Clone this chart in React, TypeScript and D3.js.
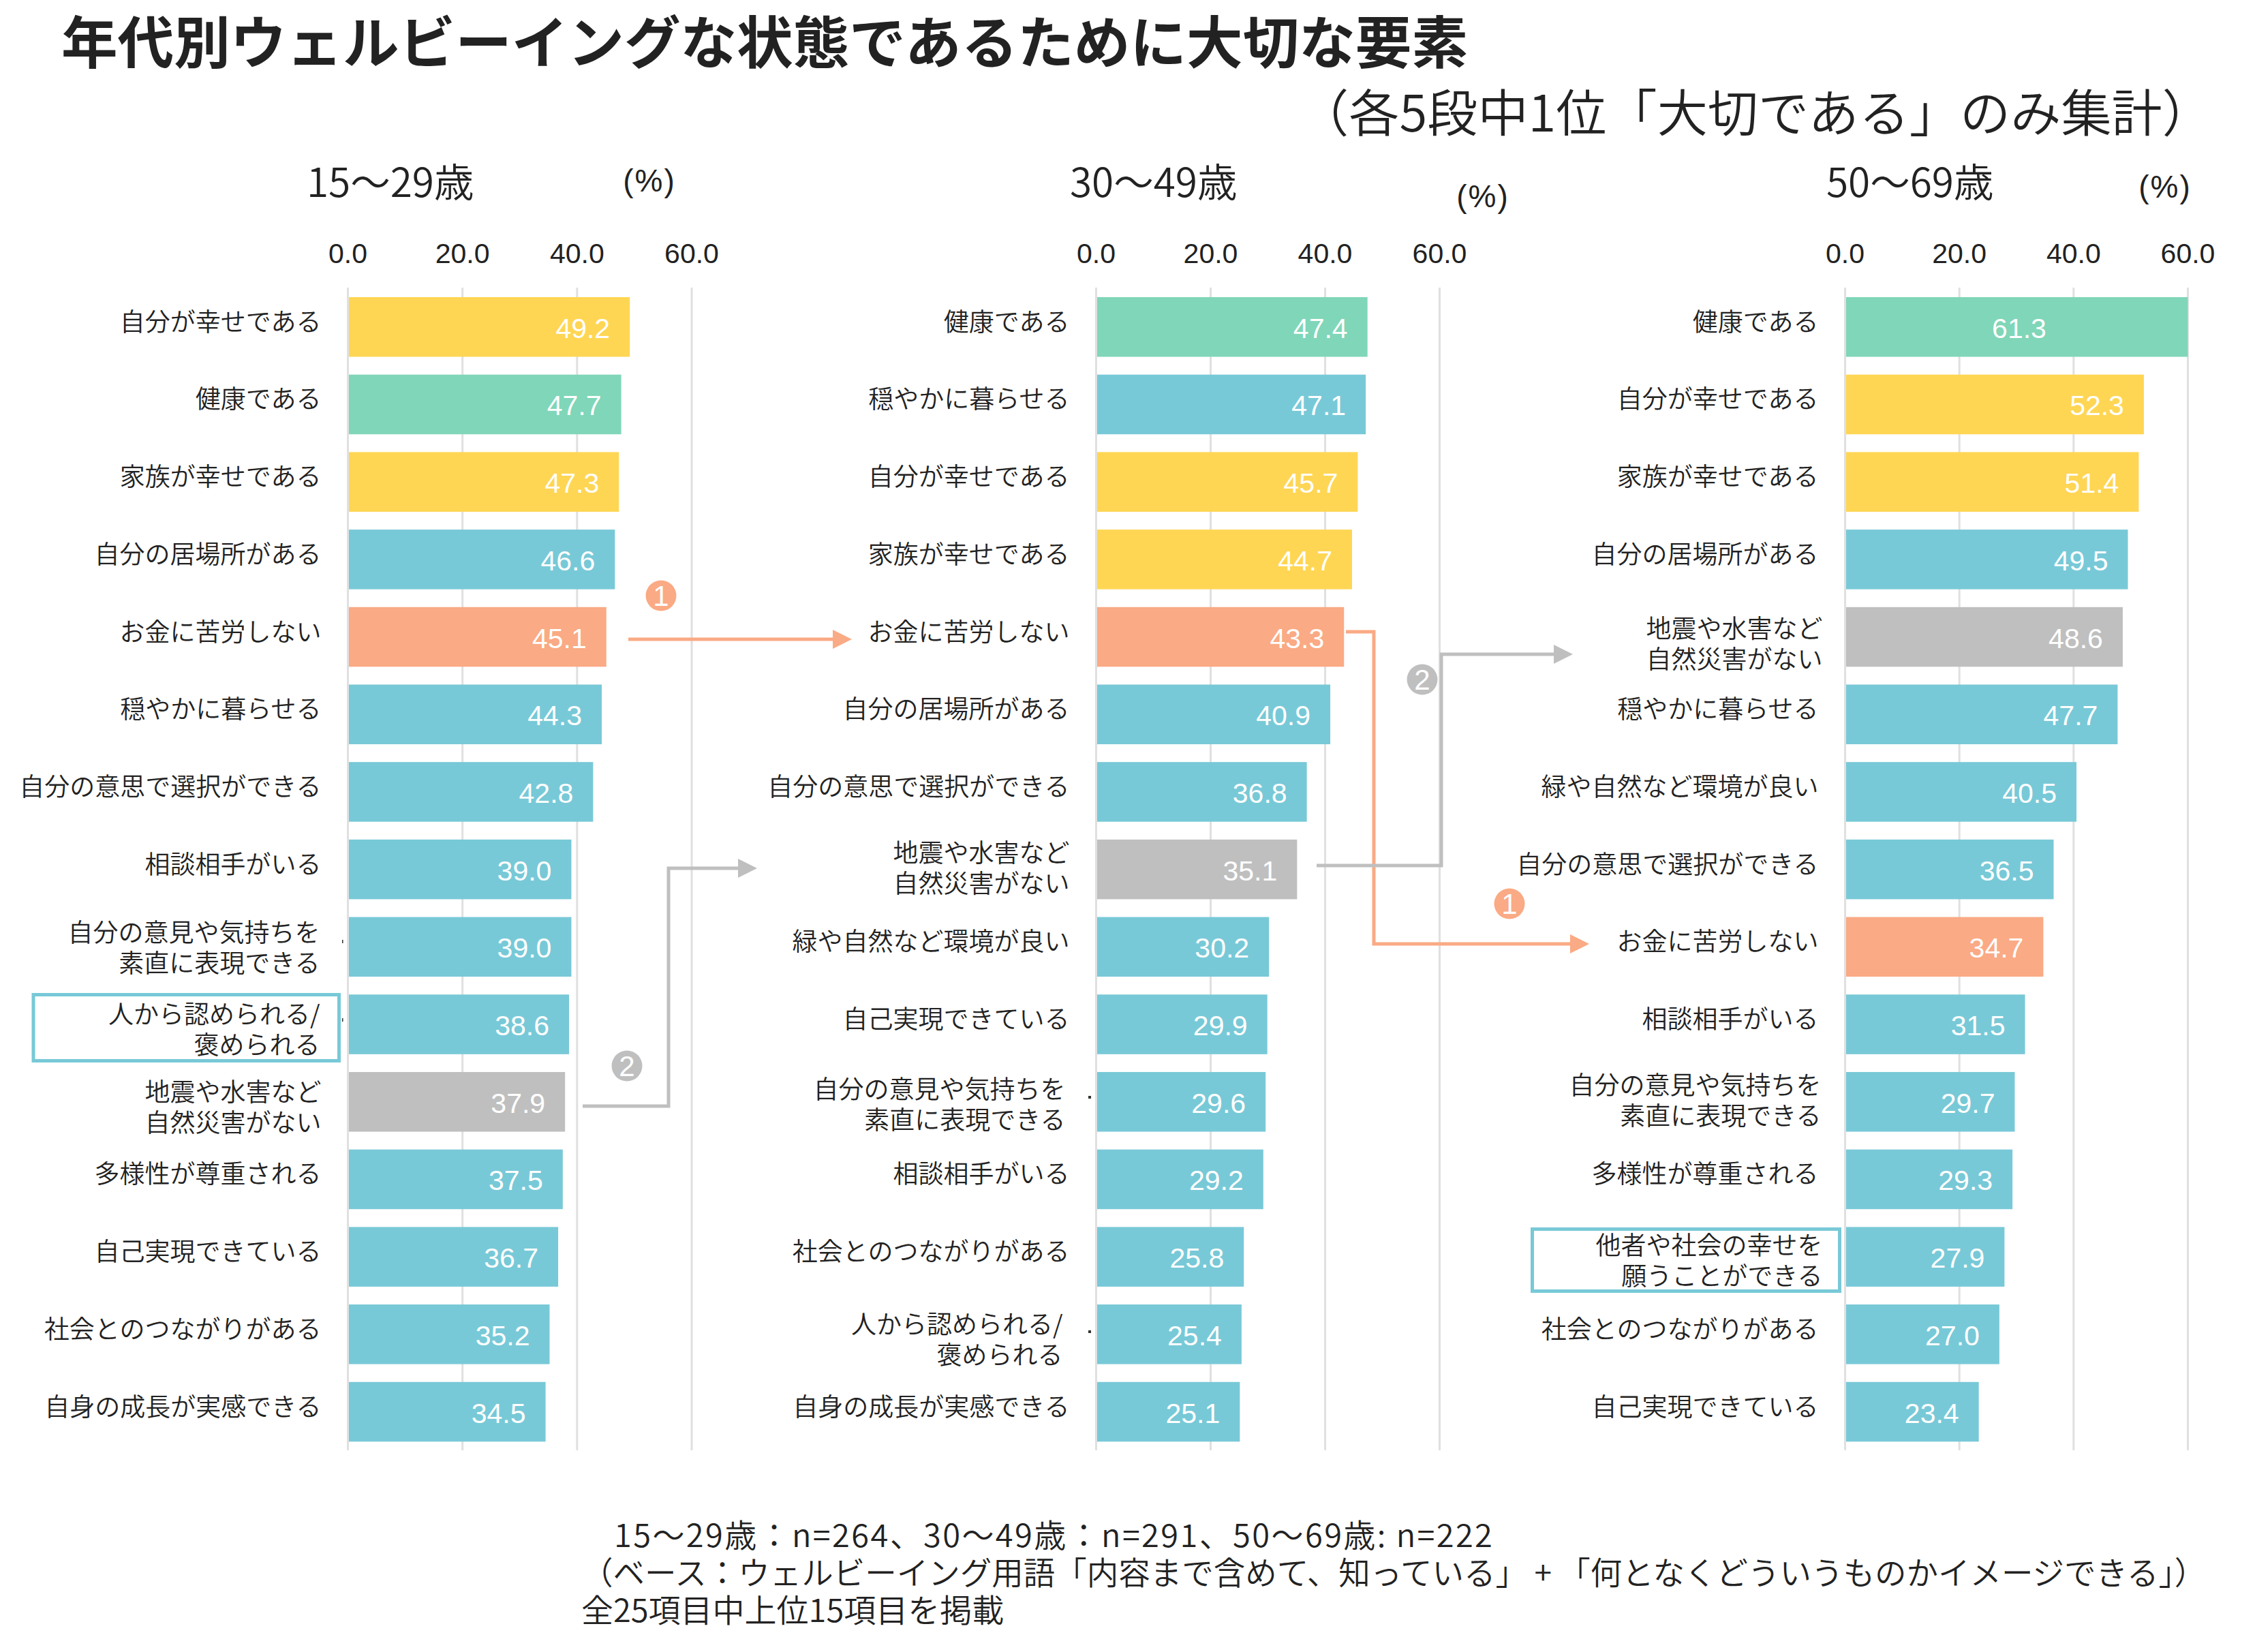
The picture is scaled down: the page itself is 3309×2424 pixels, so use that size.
import { useEffect, useRef } from 'react'
import * as d3 from 'd3'

const ticks = [0, 20, 40, 60]

const labelsYoung = ['自分が幸せである', '健康である', '家族が幸せである', '自分の居場所がある', 'お金に苦労しない', '穏やかに暮らせる', '自分の意思で選択ができる', '相談相手がいる', '自分の意見や気持ちを\n素直に表現できる', '人から認められる/\n褒められる', '地震や水害など\n自然災害がない', '多様性が尊重される', '自己実現できている', '社会とのつながりがある', '自身の成長が実感できる']
const valuesYoung = [49.2, 47.7, 47.3, 46.6, 45.1, 44.3, 42.8, 39.0, 39.0, 38.6, 37.9, 37.5, 36.7, 35.2, 34.5]

const labelsMiddle = ['健康である', '穏やかに暮らせる', '自分が幸せである', '家族が幸せである', 'お金に苦労しない', '自分の居場所がある', '自分の意思で選択ができる', '地震や水害など\n自然災害がない', '緑や自然など環境が良い', '自己実現できている', '自分の意見や気持ちを\n素直に表現できる', '相談相手がいる', '社会とのつながりがある', '人から認められる/\n褒められる', '自身の成長が実感できる']
const valuesMiddle = [47.4, 47.1, 45.7, 44.7, 43.3, 40.9, 36.8, 35.1, 30.2, 29.9, 29.6, 29.2, 25.8, 25.4, 25.1]

const labelsOlder = ['健康である', '自分が幸せである', '家族が幸せである', '自分の居場所がある', '地震や水害など\n自然災害がない', '穏やかに暮らせる', '緑や自然など環境が良い', '自分の意思で選択ができる', 'お金に苦労しない', '相談相手がいる', '自分の意見や気持ちを\n素直に表現できる', '多様性が尊重される', '他者や社会の幸せを\n願うことができる', '社会とのつながりがある', '自己実現できている']
const valuesOlder = [61.3, 52.3, 51.4, 49.5, 48.6, 47.7, 40.5, 36.5, 34.7, 31.5, 29.7, 29.3, 27.9, 27.0, 23.4]

const footnotes = [
  '15～29歳：n=264、30～49歳：n=291、50～69歳: n=222',
  '（ベース：ウェルビーイング用語「内容まで含めて、知っている」 + 「何となくどういうものかイメージできる」）',
  '全25項目中上位15項目を掲載',
]

const BLUE = '#78c9d7'
const YELLOW = '#ffd654'
const GREEN = '#80d6b8'
const ORANGE = '#faaa84'
const GRAY = '#bfbfbf'
const TEXT = '#222222'
const JP = '"Noto Sans CJK JP"'
const LATIN = '"Liberation Sans"'

const colorOf = (label: string) => {
  if (label === '健康である') return GREEN
  if (label === '自分が幸せである' || label === '家族が幸せである') return YELLOW
  if (label === 'お金に苦労しない') return ORANGE
  if (label.startsWith('地震')) return GRAY
  return BLUE
}

const panels = [
  { title: '15～29歳', labels: labelsYoung, values: valuesYoung, left: 510.5, right: 1015, titleX: 450, pctX: 953, pctY: 269, shifts: { 8: [-2, 0], 9: [-2, 6], 10: [0, 6] } as Record<number, number[]> },
  { title: '30～49歳', labels: labelsMiddle, values: valuesMiddle, left: 1608.5, right: 2112.5, titleX: 1570, pctX: 2176, pctY: 292, shifts: { 7: [0, -4], 10: [-6, 2], 13: [-10, 6] } as Record<number, number[]> },
  { title: '50～69歳', labels: labelsOlder, values: valuesOlder, left: 2707.5, right: 3210.5, titleX: 2680, pctX: 3177, pctY: 278, shifts: { 4: [6, 8], 10: [4, -4], 12: [6, 4] } as Record<number, number[]> },
]

export default function App() {
  const svgRef = useRef<SVGSVGElement>(null)

  useEffect(() => {
    if (!svgRef.current) return
    const svg = d3.select(svgRef.current)
    svg.selectAll('*').remove()

    const y = d3.scaleBand<number>()
      .domain(d3.range(15))
      .range([422.9, 2128.4])
      .paddingInner(0.23)
      .paddingOuter(0.115)
    const mid = (i: number) => (y(i) as number) + y.bandwidth() / 2

    // Title
    svg.append('text').attr('x', 90).attr('y', 93)
      .attr('font-family', JP).attr('font-weight', 700).attr('font-size', 82.6)
      .attr('fill', TEXT).text('年代別ウェルビーイングな状態であるために大切な要素')
    svg.append('text').attr('x', 3247).attr('y', 193).attr('text-anchor', 'end')
      .attr('font-family', JP).attr('font-weight', 350).attr('font-size', 74.2).attr('fill', TEXT)
      .text('（各5段中1位「大切である」のみ集計）')

    panels.forEach(p => {
      const x = d3.scaleLinear().domain([0, 60]).range([p.left, p.right]).clamp(true)
      const g = svg.append('g')

      g.append('text').attr('x', p.titleX).attr('y', 289)
        .attr('font-family', JP).attr('font-weight', 350).attr('font-size', 58.5).attr('fill', TEXT).text(p.title)
      g.append('text').attr('x', p.pctX).attr('y', p.pctY + 12).attr('text-anchor', 'middle')
        .attr('font-family', LATIN).attr('font-size', 46).attr('letter-spacing', 2).attr('fill', TEXT).text('(%)')

      // Grid and axis labels
      ticks.forEach(t => {
        g.append('line').attr('x1', x(t)).attr('x2', x(t)).attr('y1', 422).attr('y2', 2128)
          .attr('stroke', '#e0e0e0').attr('stroke-width', 3)
        g.append('text').attr('x', x(t)).attr('y', 386).attr('text-anchor', 'middle')
          .attr('font-family', LATIN).attr('font-size', 41).attr('fill', TEXT).text(t.toFixed(1))
      })

      // Bars
      p.values.forEach((v, i) => {
        g.append('rect').attr('x', x(0) + 1.5).attr('y', y(i) as number)
          .attr('width', x(v) - x(0) - 1.5).attr('height', y.bandwidth())
          .attr('fill', colorOf(p.labels[i]))
        const over = v > x.domain()[1]
        g.append('text')
          .attr('x', over ? (x(0) + x(v)) / 2 + 4 : x(v) - 29)
          .attr('y', mid(i) + 16)
          .attr('text-anchor', over ? 'middle' : 'end')
          .attr('font-family', LATIN).attr('font-size', 41).attr('fill', '#fff')
          .text(v.toFixed(1))
      })

      // Category labels
      p.labels.forEach((label, i) => {
        const lines = label.split('\n')
        const [dx, dy] = p.shifts[i] ?? [0, 0]
        const text = g.append('text').attr('text-anchor', 'end')
          .attr('font-family', JP).attr('font-weight', 350).attr('font-size', 37).attr('fill', TEXT)
        lines.forEach((line, k) => {
          const base = lines.length === 1 ? mid(i) + 6 : mid(i) - 7 + k * 45 + dy
          text.append('tspan').attr('x', x(0) - 39 + dx).attr('y', base).text(line)
        })
      })
    })

    // Highlight boxes round two labels
    const boxes = [[49, 1459.5, 448.5, 97], [2248.5, 1803.5, 451, 91]]
    boxes.forEach(([bx, by, bw, bh]) => {
      svg.append('rect').attr('x', bx).attr('y', by).attr('width', bw).attr('height', bh)
        .attr('fill', 'none').attr('stroke', BLUE).attr('stroke-width', 5)
    })

    // Stray specks left of the axis in the source
    const specks = [[502, 1379, 1.5, 5], [502, 1494, 1.5, 5], [1597, 1608, 4, 4], [1597, 1952, 4, 4]]
    specks.forEach(([sx, sy, sw, sh]) => {
      svg.append('rect').attr('x', sx).attr('y', sy).attr('width', sw).attr('height', sh).attr('fill', '#333')
    })

    // Rank change arrows
    const defs = svg.append('defs')
    ;[['orange', ORANGE], ['gray', GRAY]].forEach(([id, c]) => {
      defs.append('marker').attr('id', `head-${id}`).attr('markerUnits', 'userSpaceOnUse')
        .attr('viewBox', '0 0 28 28').attr('refX', 0).attr('refY', 14)
        .attr('markerWidth', 28).attr('markerHeight', 28).attr('orient', 'auto')
        .append('path').attr('d', 'M0,0L28,14L0,28Z').attr('fill', c)
    })
    const arrows: [string, string, [number, number][]][] = [
      ['orange', ORANGE, [[922, 938], [1222, 938]]],
      ['gray', GRAY, [[855, 1623], [981, 1623], [981, 1274], [1083, 1274]]],
      ['orange', ORANGE, [[1975, 927], [2016, 927], [2016, 1385], [2304, 1385]]],
      ['gray', GRAY, [[1932, 1270], [2115, 1270], [2115, 960], [2280, 960]]],
    ]
    const path = d3.line()
    arrows.forEach(([id, c, pts]) => {
      svg.append('path').attr('d', path(pts)).attr('fill', 'none').attr('stroke', c)
        .attr('stroke-width', 5).attr('marker-end', `url(#head-${id})`)
    })

    // Numbered badges
    const badges: [number, number, string, string][] = [
      [970, 874, '1', ORANGE],
      [920, 1564, '2', GRAY],
      [2087, 997, '2', GRAY],
      [2215, 1326, '1', ORANGE],
    ]
    badges.forEach(([cx, cy, n, c]) => {
      svg.append('circle').attr('cx', cx).attr('cy', cy).attr('r', 22.5).attr('fill', c)
      svg.append('text').attr('x', cx).attr('y', cy + 15).attr('text-anchor', 'middle')
        .attr('font-family', LATIN).attr('font-size', 42).attr('fill', '#fff').text(n)
    })

    // Footnotes
    const footX = [901, 853, 853]
    const footSize = [47, 46.5, 47]
    const footSpacing = [2.4, 0, 0]
    footnotes.forEach((line, i) => {
      svg.append('text').attr('x', footX[i]).attr('y', 2270 + i * 55)
        .attr('font-family', JP).attr('font-weight', 350).attr('font-size', footSize[i])
        .attr('letter-spacing', footSpacing[i]).attr('fill', TEXT).text(line)
    })
  }, [])

  return (
    <svg ref={svgRef} width={3309} height={2424}
      style={{ position: 'absolute', left: 0, top: 0, background: '#fff', display: 'block' }} />
  )
}
